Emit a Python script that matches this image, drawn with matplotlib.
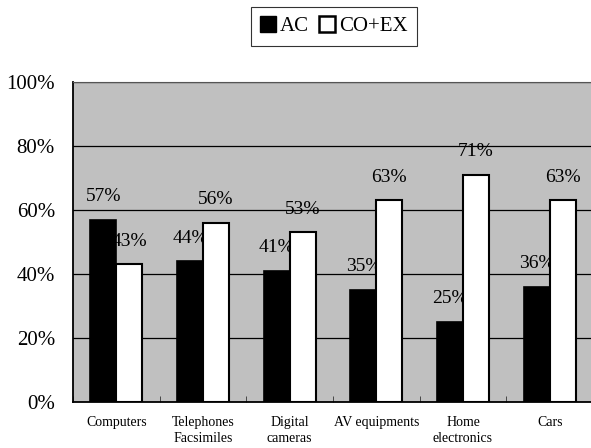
import numpy as np
import matplotlib
matplotlib.use("Agg")
import matplotlib.pyplot as plt
from matplotlib.patches import Patch

plt.rcParams["font.family"] = ["Liberation Serif", "DejaVu Serif"]

categories = ["Computers", "Telephones\nFacsimiles", "Digital\ncameras",
              "AV equipments", "Home\nelectronics", "Cars"]
ac_values = [57, 44, 41, 35, 25, 36]
coex_values = [43, 56, 53, 63, 71, 63]
y_ticks = [0, 20, 40, 60, 80, 100]

fig = plt.figure(figsize=(5.91, 4.48), dpi=100)
W, H = 591, 448
ax = fig.add_axes([73 / W, 1 - 402 / H, 520 / W, 320 / H])
ax.set_facecolor("#c0c0c0")

x = np.arange(len(categories))
bw = 0.30
ax.bar(x - bw / 2, ac_values, bw, color="black", edgecolor="black",
       linewidth=1.2, zorder=3)
ax.bar(x + bw / 2, coex_values, bw, color="white", edgecolor="black",
       linewidth=1.5, zorder=3)

# value labels sit under the bars, like the original
for xi, v in zip(x - bw / 2, ac_values):
    ax.text(xi, v + 7.2, f"{v}%", ha="center", va="center", fontsize=14, zorder=2)
for xi, v in zip(x + bw / 2, coex_values):
    ax.text(xi, v + 7.2, f"{v}%", ha="center", va="center", fontsize=14, zorder=2)

ax.set_xlim(-0.5, len(categories) - 0.5)
ax.set_ylim(0, 100)
ax.set_yticks(y_ticks)
ax.set_yticklabels([f"{t}%" for t in y_ticks], fontsize=15)
ax.tick_params(axis="y", length=0, pad=13)
ax.yaxis.grid(True, color="black", linewidth=0.9, zorder=1)
ax.set_axisbelow(True)

ax.set_xticks(x)
ax.set_xticklabels(categories, fontsize=10, linespacing=1.3, va="top")
ax.tick_params(axis="x", length=0, pad=10)
ax.set_xticks(np.arange(len(categories)) - 0.5, minor=True)
ax.tick_params(axis="x", which="minor", direction="in", length=4, color="#333333")

for side in ["left", "bottom"]:
    ax.spines[side].set_color("black")
    ax.spines[side].set_linewidth(1.3)
ax.spines["top"].set_color("#555555")
ax.spines["right"].set_visible(False)

handles = [Patch(facecolor="black", edgecolor="black", label="AC"),
           Patch(facecolor="white", edgecolor="black", linewidth=1.8, label="CO+EX")]
leg = fig.legend(handles=handles, loc="upper center", bbox_to_anchor=(334 / W, 1 - 7 / H),
                 ncol=2, fontsize=15, frameon=True, fancybox=False, shadow=False,
                 handlelength=0.75, handleheight=0.75, handletextpad=0.2,
                 columnspacing=0.5, borderpad=0.45, borderaxespad=0)
leg.get_frame().set_edgecolor("black")
leg.get_frame().set_linewidth(0.8)

fig.savefig("out.png", dpi=100)
